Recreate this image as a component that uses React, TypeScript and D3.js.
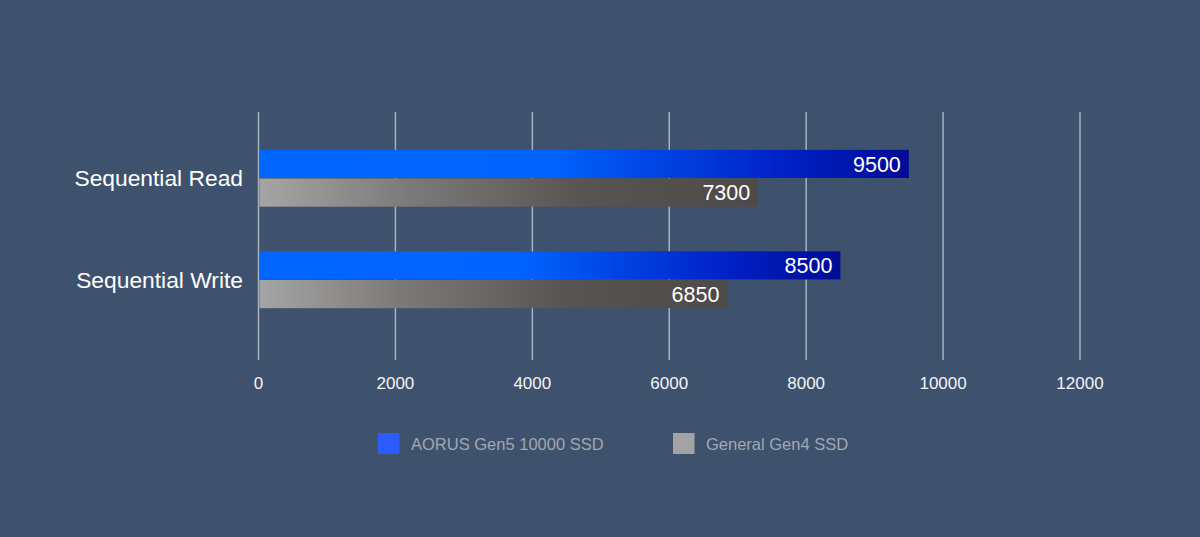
import { useMemo } from 'react';
import * as d3 from 'd3';

const categories = ['Sequential Read', 'Sequential Write'];
const seriesNames = ['AORUS Gen5 10000 SSD', 'General Gen4 SSD'];
const aorusValues = [9500, 8500];
const gen4Values = [7300, 6850];
const xTicks = [0, 2000, 4000, 6000, 8000, 10000, 12000];

const W = 1200;
const H = 537;
const FONT = '"Liberation Sans", Arial, Helvetica, sans-serif';

export default function App() {
  const x = useMemo(() => d3.scaleLinear().domain([0, 12000]).range([258.5, 1080]), []);
  const y = useMemo(
    () => d3.scaleBand<string>().domain(categories).range([127.5, 330.5]).paddingInner(0.44).paddingOuter(0.22),
    [],
  );
  const inner = useMemo(
    () => d3.scaleBand<number>().domain([0, 1]).range([0, y.bandwidth()]).paddingInner(0.02),
    [y],
  );

  const rows = categories.map((c, i) => ({ cat: c, values: [aorusValues[i], gen4Values[i]] }));
  const fills = ['url(#gradBlue)', 'url(#gradGrey)'];
  const legendColors = ['#2b5cff', '#a3a3a3'];
  const legendX = [378, 673];

  return (
    <svg width={W} height={H} style={{ display: 'block', position: 'absolute', left: 0, top: 0 }}>
      <defs>
        <linearGradient id="gradBlue" x1="0" x2="1" y1="0" y2="0">
          <stop offset="0" stopColor="#0066ff" />
          <stop offset="0.45" stopColor="#0063fc" />
          <stop offset="0.8" stopColor="#0022c8" />
          <stop offset="1" stopColor="#000c96" />
        </linearGradient>
        <linearGradient id="gradGrey" x1="0" x2="1" y1="0" y2="0">
          <stop offset="0" stopColor="#a5a5a5" />
          <stop offset="0.3" stopColor="#7c7a78" />
          <stop offset="0.65" stopColor="#585452" />
          <stop offset="1" stopColor="#4e4a48" />
        </linearGradient>
      </defs>
      <rect width={W} height={H} fill="#3e526e" />

      {xTicks.map((t) => (
        <g key={t}>
          <line x1={x(t)} x2={x(t)} y1={112} y2={360} stroke="#a9b1bf" strokeWidth={1.5} />
          <text
            x={x(t)}
            y={389}
            textAnchor="middle"
            fill="#f2f4f7"
            fontFamily={FONT}
            fontSize={17}
          >
            {t}
          </text>
        </g>
      ))}

      {rows.map((r) => (
        <g key={r.cat} transform={`translate(0,${y(r.cat)})`}>
          <text
            x={243}
            y={inner(1)! - 0.5}
            dy="0.36em"
            textAnchor="end"
            fill="#ffffff"
            fontFamily={FONT}
            fontSize={22.8}
          >
            {r.cat}
          </text>
          {r.values.map((v, j) => (
            <g key={j}>
              <rect
                x={x(0) + 1}
                y={inner(j)}
                width={x(v) - x(0) - 1}
                height={inner.bandwidth()}
                fill={fills[j]}
              />
              <text
                x={x(v) - 8}
                y={inner(j)! + inner.bandwidth() / 2}
                dy="0.36em"
                textAnchor="end"
                fill="#ffffff"
                fontFamily={FONT}
                fontSize={21.5}
              >
                {v}
              </text>
            </g>
          ))}
        </g>
      ))}

      {seriesNames.map((s, i) => (
        <g key={s} transform={`translate(${legendX[i]},433)`}>
          <rect width={21.5} height={21} fill={legendColors[i]} />
          <text x={33} y={17} fill="#a2a7b0" fontFamily={FONT} fontSize={16.5}>
            {s}
          </text>
        </g>
      ))}
    </svg>
  );
}
